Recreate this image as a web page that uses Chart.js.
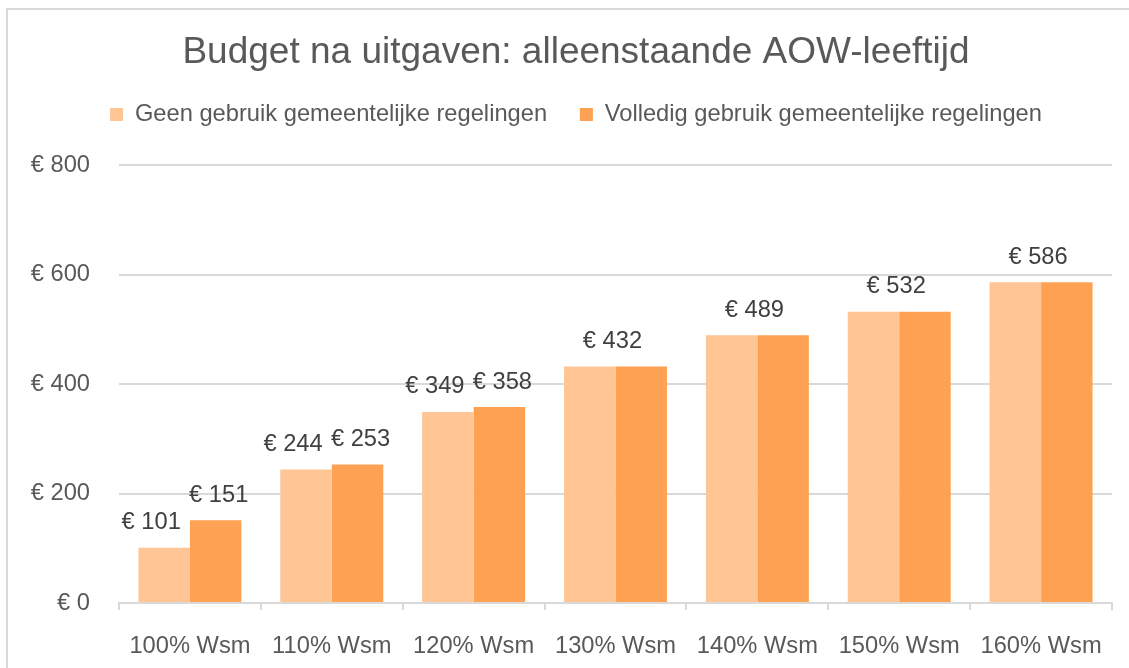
<!DOCTYPE html>
<html>
<head>
<meta charset="utf-8">
<script src="https://cdn.jsdelivr.net/npm/chart.js@4"></script>
<style>
  html, body { margin: 0; padding: 0; background: #ffffff; }
  canvas { display: block; }
</style>
</head>
<body>
<canvas id="c" width="1129" height="668"></canvas>
<script>
// ---- data ----
const chartTitle = 'Budget na uitgaven: alleenstaande AOW-leeftijd';
const categories = ['100% Wsm', '110% Wsm', '120% Wsm', '130% Wsm', '140% Wsm', '150% Wsm', '160% Wsm'];
const seriesNames = ['Geen gebruik gemeentelijke regelingen', 'Volledig gebruik gemeentelijke regelingen'];
const geenGebruik = [101, 244, 349, 432, 489, 532, 586];
const volledigGebruik = [151, 253, 358, 432, 489, 532, 586];
const yTickValues = [0, 200, 400, 600, 800];
const currencyPrefix = '€ ';

// ---- style ----
const FONT = "'Liberation Sans', Arial, sans-serif";
const SMALL = 23.7;
const colLight = '#FFC594';
const colDark = '#FFA152';
const gridCol = '#D9D9D9';
const headerLeft = 40;

const frame = {
  id: 'frame',
  beforeDraw(chart) {
    const ctx = chart.ctx;
    ctx.save();
    ctx.fillStyle = '#ffffff';
    ctx.fillRect(0, 0, chart.width, chart.height);
    ctx.strokeStyle = gridCol;
    ctx.lineWidth = 2;
    ctx.strokeRect(7, 9, chart.width + 50, chart.height + 50);
    ctx.restore();
  }
};

const headerLayout = {
  id: 'headerLayout',
  beforeInit(chart) {
    const lg = chart.legend;
    if (lg && !lg._patched) {
      const orig = lg.fit;
      lg.fit = function () { orig.call(this); this.height += 28.65; };
      lg._patched = true;
    }
  },
  afterLayout(chart) {
    if (chart.legend) chart.legend.left = headerLeft;
    if (chart.titleBlock) chart.titleBlock.left = headerLeft;
  }
};

const valueLabels = {
  id: 'valueLabels',
  afterDatasetsDraw(chart) {
    const ctx = chart.ctx;
    const m0 = chart.getDatasetMeta(0);
    const m1 = chart.getDatasetMeta(1);
    const d0 = chart.data.datasets[0].data;
    const d1 = chart.data.datasets[1].data;
    ctx.save();
    ctx.font = SMALL + 'px ' + FONT;
    ctx.fillStyle = '#404040';
    ctx.textAlign = 'center';
    ctx.textBaseline = 'middle';
    for (let i = 0; i < d0.length; i++) {
      const b0 = m0.data[i], b1 = m1.data[i];
      if (d0[i] === d1[i]) {
        const cx = (b0.x + b1.x) / 2 - 3;
        ctx.fillText(currencyPrefix + d0[i], cx, Math.min(b0.y, b1.y) - 25);
      } else {
        ctx.fillText(currencyPrefix + d0[i], b0.x - 13, b0.y - 25);
        ctx.fillText(currencyPrefix + d1[i], b1.x + 3, b1.y - 25);
      }
    }
    ctx.restore();
  }
};

new Chart(document.getElementById('c'), {
  type: 'bar',
  data: {
    labels: categories,
    datasets: [
      { label: seriesNames[0], data: geenGebruik, backgroundColor: colLight, borderWidth: 0 },
      { label: seriesNames[1], data: volledigGebruik, backgroundColor: colDark, borderWidth: 0 }
    ]
  },
  options: {
    responsive: false,
    animation: false,
    devicePixelRatio: 1,
    categoryPercentage: 0.726,
    barPercentage: 1.0,
    layout: { padding: { left: 0, right: 17, top: 0, bottom: 0 } },
    plugins: {
      title: {
        display: true,
        text: chartTitle,
        color: '#595959',
        font: { family: FONT, size: 37, weight: 'normal', lineHeight: 0.9 },
        padding: { top: 36.35, bottom: 0.2 }
      },
      legend: {
        display: true,
        position: 'top',
        align: 'center',
        labels: {
          boxWidth: 13,
          boxHeight: 13,
          padding: 32.8,
          color: '#595959',
          font: { family: FONT, size: SMALL }
        }
      },
      tooltip: { enabled: false }
    },
    scales: {
      x: {
        afterFit(scale) { scale.height = 65; },
        border: { display: true, color: gridCol, width: 2 },
        grid: { display: true, drawOnChartArea: false, drawTicks: true, tickLength: 7, color: gridCol, lineWidth: 2 },
        ticks: { color: '#595959', padding: 21.8, font: { family: FONT, size: SMALL } }
      },
      y: {
        min: 0,
        max: 800,
        afterFit(scale) { scale.width = 119; },
        afterBuildTicks(scale) { scale.ticks = yTickValues.map(v => ({ value: v })); },
        border: { display: false },
        grid: { color: gridCol, lineWidth: 2, drawTicks: false },
        ticks: {
          color: '#595959',
          padding: 29,
          font: { family: FONT, size: SMALL },
          callback: v => currencyPrefix + v
        }
      }
    }
  },
  plugins: [frame, headerLayout, valueLabels]
});
</script>
</body>
</html>
